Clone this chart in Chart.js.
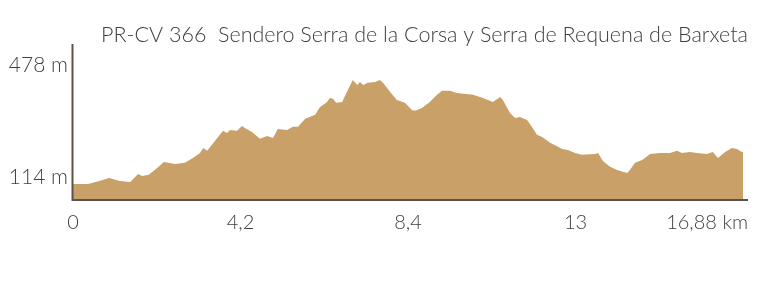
<!DOCTYPE html>
<html>
<head>
<meta charset="utf-8">
<script src="https://cdn.jsdelivr.net/npm/chart.js@4.4.1/dist/chart.umd.min.js"></script>
<style>
  html, body { margin: 0; padding: 0; background: #ffffff; }
  #wrap { width: 774px; height: 291px; position: relative; }
</style>
</head>
<body>
<div id="wrap"><canvas id="profile" width="774" height="291"></canvas></div>
<script>
// ## route profile, distance (km) and elevation (m) ##
const distKm = [0, 0.38, 0.66, 0.91, 1.18, 1.44, 1.64, 1.74, 1.91, 2.12, 2.29, 2.57, 2.82, 3.02, 3.20, 3.28, 3.38,
    3.78, 3.88, 3.96, 4.13, 4.26, 4.33, 4.51, 4.71, 4.89, 5.04, 5.16, 5.39, 5.54, 5.67, 5.85, 6.10, 6.22,
    6.40, 6.47, 6.55, 6.63, 6.78, 6.90, 7.05, 7.16, 7.23, 7.31, 7.43, 7.61, 7.73, 7.81, 7.99, 8.16, 8.36,
    8.54, 8.62, 8.79, 8.99, 9.17, 9.30, 9.50, 9.67, 10.08, 10.33, 10.58, 10.76, 10.83, 11.01, 11.14, 11.26,
    11.44, 11.56, 11.69, 11.82, 12.02, 12.22, 12.32, 12.47, 12.65, 12.82, 13.15, 13.23, 13.35, 13.53, 13.71,
    13.96, 14.03, 14.16, 14.34, 14.54, 14.79, 15.04, 15.22, 15.34, 15.54, 15.72, 15.97, 16.12, 16.25, 16.43,
    16.60, 16.73, 16.85, 16.88];
const elevM = [91, 91, 101, 111, 101, 98, 124, 117, 121, 143, 163, 156, 160, 176, 192, 208, 199,
    264, 257, 267, 264, 280, 273, 260, 238, 247, 241, 270, 267, 277, 277, 303, 316, 341,
    358, 371, 368, 355, 358, 390, 429, 413, 423, 413, 420, 423, 429, 420, 390, 364, 355,
    332, 329, 338, 358, 381, 394, 394, 387, 381, 371, 358, 374, 364, 322, 306, 309,
    299, 277, 251, 244, 225, 212, 205, 202, 192, 186, 189, 192, 166, 147, 137,
    127, 137, 160, 169, 189, 192, 192, 199, 192, 195, 192, 189, 195, 176, 195,
    208, 205, 195, 195];

// axis labels
const titleText = 'PR-CV 366  Sendero Serra de la Corsa y Serra de Requena de Barxeta';
const xTickVals = [0, 4.22, 8.44, 12.66, 16.88];
const xTickLabels = ['0', '4,2', '8,4', '13', '16,88 km'];
const yTickVals = [478, 114];
const yTickLabels = ['478 m', '114 m'];

const fillColor = '#c9a068';
const axisColor = '#5a524b';
const textColor = '#404040';
const font = 'Lato, "Open Sans", sans-serif';

// draws the title, the two axis lines and the labels (the library scales are hidden)
const profileAxes = {
    id: 'profileAxes',
    afterDatasetsDraw(chart) {
        const ctx = chart.ctx;
        const xs = chart.scales.x;
        const ys = chart.scales.y;
        const area = chart.chartArea;
        ctx.save();

        ctx.strokeStyle = axisColor;
        ctx.lineWidth = 2;
        ctx.beginPath();
        ctx.moveTo(area.left - 0.5, area.top - 1);
        ctx.lineTo(area.left - 0.5, area.bottom + 1);
        ctx.lineTo(area.right + 5, area.bottom + 1);
        ctx.stroke();

        ctx.fillStyle = textColor;
        ctx.textBaseline = 'alphabetic';

        // title, stretched to span the same width as in the original
        ctx.font = '300 21.5px ' + font;
        ctx.textAlign = 'right';
        ctx.fillText(titleText, area.right + 5, 42, 651);

        // y labels
        ctx.font = '300 21px ' + font;
        ctx.textAlign = 'right';
        ctx.textBaseline = 'middle';
        for (var i = 0; i < yTickVals.length; i++) {
            ctx.fillText(yTickLabels[i], area.left - 5, ys.getPixelForValue(yTickVals[i]));
        }

        // x labels
        ctx.font = '300 20px ' + font;
        ctx.textBaseline = 'alphabetic';
        for (var j = 0; j < xTickVals.length; j++) {
            var px = xs.getPixelForValue(xTickVals[j]);
            if (j == xTickVals.length - 1) {
                ctx.textAlign = 'right';
                px = area.right + 5;
            } else {
                ctx.textAlign = 'center';
            }
            ctx.fillText(xTickLabels[j], px, 229);
        }
        ctx.restore();
    }
};

const points = distKm.map((d, i) => ({ x: d, y: elevM[i] }));

new Chart(document.getElementById('profile'), {
    type: 'line',
    data: {
        datasets: [{
            data: points,
            fill: 'start',
            backgroundColor: fillColor,
            borderColor: fillColor,
            borderWidth: 0,
            pointRadius: 0,
            tension: 0
        }]
    },
    options: {
        responsive: false,
        animation: false,
        layout: {
            padding: { left: 73, right: 31, top: 45, bottom: 92 }
        },
        plugins: {
            legend: { display: false },
            tooltip: { enabled: false }
        },
        scales: {
            x: { type: 'linear', display: false, min: 0, max: 16.88 },
            y: { display: false, min: 42.5, max: 543 }
        }
    },
    plugins: [profileAxes]
});
</script>
</body>
</html>
